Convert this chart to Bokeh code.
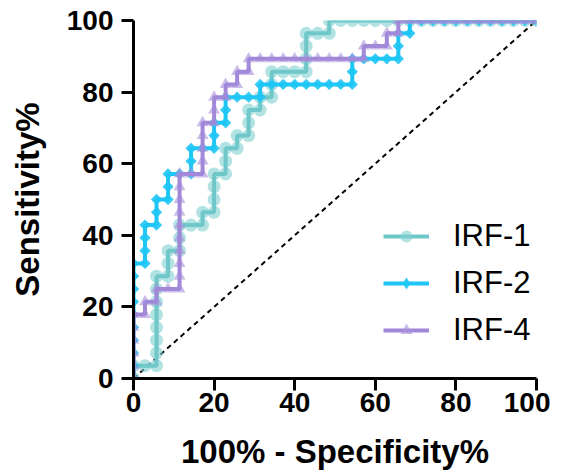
import math
from bokeh.plotting import figure
from bokeh.models import Range1d, FixedTicker, Legend, LegendItem
from bokeh.embed import file_html
from bokeh.resources import INLINE

# ROC operating points as counts (false positives of 35 controls, true positives of 28 cases)
N_CONTROL = 35
N_CASE = 28

IRF1_FP = [0, 0, 1, 2, 2, 2, 2, 2, 2, 2, 2, 3, 3, 3, 4, 4, 4, 5, 6, 6, 7, 7, 7, 7, 8, 8, 8, 9, 9,
           10, 10, 10, 11, 11, 12, 12, 12, 13, 14, 15, 15, 15, 15, 16, 17, 17,
           18, 19, 20, 21, 22, 23, 24, 25, 26, 27, 28, 29, 30, 31, 32, 33, 34, 35]
IRF1_TP = [0, 1, 1, 1, 2, 3, 4, 5, 6, 7, 8, 8, 9, 10, 10, 11, 12, 12, 12, 13, 13, 14, 15, 16, 16, 17, 18, 18, 19,
           19, 20, 21, 21, 22, 22, 23, 24, 24, 24, 24, 25, 26, 27, 27, 27, 28,
           28, 28, 28, 28, 28, 28, 28, 28, 28, 28, 28, 28, 28, 28, 28, 28, 28, 28]

IRF2_FP = [0, 0, 0, 0, 0, 0, 0, 0, 0, 0, 1, 1, 1, 1, 2, 2, 2, 3, 3, 3, 4, 5, 5, 5, 6, 7, 7, 7,
           8, 8, 8, 9, 10, 11, 11, 12, 13, 14, 15, 16, 17, 18, 19, 19, 19,
           20, 21, 22, 23, 23, 23, 24, 24, 25, 26, 27, 28, 29, 30, 31, 32, 33, 34, 35]
IRF2_TP = [0, 1, 2, 3, 4, 5, 6, 7, 8, 9, 9, 10, 11, 12, 12, 13, 14, 14, 15, 16, 16, 16, 17, 18, 18, 18, 19, 20,
           20, 21, 22, 22, 22, 22, 23, 23, 23, 23, 23, 23, 23, 23, 23, 24, 25,
           25, 25, 25, 25, 26, 27, 27, 28, 28, 28, 28, 28, 28, 28, 28, 28, 28, 28, 28]

IRF4_FP = [0, 0, 0, 0, 0, 0, 1, 1, 2, 2, 3, 4, 4, 4, 4, 4, 4, 4, 4, 4, 4, 5, 6, 6, 6, 6, 6,
           7, 7, 7, 8, 8, 9, 9, 10, 10, 11, 12, 13, 14, 15, 16, 17, 18, 19, 20, 20,
           21, 22, 22, 23, 23, 24, 25, 26, 27, 28, 29, 30, 31, 32, 33, 34, 35]
IRF4_TP = [0, 1, 2, 3, 4, 5, 5, 6, 6, 7, 7, 7, 8, 9, 10, 11, 12, 13, 14, 15, 16, 16, 16, 17, 18, 19, 20,
           20, 21, 22, 22, 23, 23, 24, 24, 25, 25, 25, 25, 25, 25, 25, 25, 25, 25, 25, 26,
           26, 26, 27, 27, 28, 28, 28, 28, 28, 28, 28, 28, 28, 28, 28, 28, 28]

SERIES = ["IRF-1", "IRF-2", "IRF-4"]
DIAG_X = [0, 100]
DIAG_Y = [0, 100]
TICKS = [0, 20, 40, 60, 80, 100]

for a, b in [(IRF1_FP, IRF1_TP), (IRF2_FP, IRF2_TP), (IRF4_FP, IRF4_TP)]:
    assert len(a) == len(b), (len(a), len(b))


def pct(counts, n):
    return [100.0 * c / n for c in counts]


p = figure(frame_width=403, frame_height=358,
           x_range=Range1d(0, 100), y_range=Range1d(0, 100),
           output_backend="svg", toolbar_location=None,
           min_border_left=133, min_border_right=14, min_border_top=20, min_border_bottom=0)
p.outline_line_color = None
p.grid.visible = False
p.background_fill_color = "white"

p.line(DIAG_X, DIAG_Y, line_color="black", line_width=2, line_dash="5 4")

styles = [
    dict(line="#6FC7C9", marker="circle", size=13, angle=0, fill="#7FCFCF", alpha=0.6,
         leg_marker="circle", leg_size=13),
    dict(line="#1EC6F5", marker="square", size=8, angle=math.pi / 4, fill="#1EC6F5", alpha=0.9,
         leg_marker="diamond", leg_size=12),
    dict(line="#A288D8", marker="triangle", size=12, angle=0, fill="#A98FDA", alpha=0.6,
         leg_marker="triangle", leg_size=12),
]
data = [(IRF1_FP, IRF1_TP), (IRF2_FP, IRF2_TP), (IRF4_FP, IRF4_TP)]

NAN = float("nan")
items = []
for name, (fp, tp), st in zip(SERIES, data, styles):
    xs = pct(fp, N_CONTROL)
    ys = pct(tp, N_CASE)
    p.scatter(xs, ys, marker=st["marker"], size=st["size"], angle=st["angle"],
              fill_color=st["fill"], fill_alpha=st["alpha"], line_color=None)
    ln = p.line(xs, ys, line_color=st["line"], line_width=4)
    # legend-only key marker (not drawn in the plot) so the key shows the upright symbol
    key = p.scatter(x=[NAN], y=[NAN], marker=st["leg_marker"], size=st["leg_size"],
                    fill_color=st["fill"], fill_alpha=st["alpha"], line_color=None)
    items.append(LegendItem(label=name, renderers=[ln, key]))

for ax in (p.xaxis, p.yaxis):
    ax.ticker = FixedTicker(ticks=TICKS)
    ax.axis_line_width = 3
    ax.axis_line_color = "black"
    ax.major_tick_line_width = 3
    ax.major_tick_line_color = "black"
    ax.major_tick_out = 12
    ax.major_tick_in = 0
    ax.minor_tick_line_color = None
    ax.major_label_text_font = "Liberation Sans"
    ax.major_label_text_font_style = "bold"
    ax.major_label_text_font_size = "28px"
    ax.major_label_text_color = "black"
    ax.axis_label_text_font = "Liberation Sans"
    ax.axis_label_text_font_style = "bold"
    ax.axis_label_text_font_size = "33px"
    ax.axis_label_text_color = "black"

p.xaxis.axis_label = "100% - Specificity%"
p.yaxis.axis_label = "Sensitivity%"
p.xaxis.major_label_standoff = 2
p.xaxis.axis_label_standoff = 18
p.yaxis.major_label_standoff = 8
p.yaxis.axis_label_standoff = 18

legend = Legend(items=items, location=(250, 30))
legend.label_text_font = "Liberation Sans"
legend.label_text_font_size = "31px"
legend.label_text_color = "black"
legend.glyph_width = 46
legend.glyph_height = 30
legend.label_height = 30
legend.spacing = 11
legend.label_standoff = 24
legend.padding = 0
legend.margin = 0
legend.border_line_color = None
legend.background_fill_alpha = 0
p.add_layout(legend)

open("out.html", "w").write(file_html(p, INLINE))
